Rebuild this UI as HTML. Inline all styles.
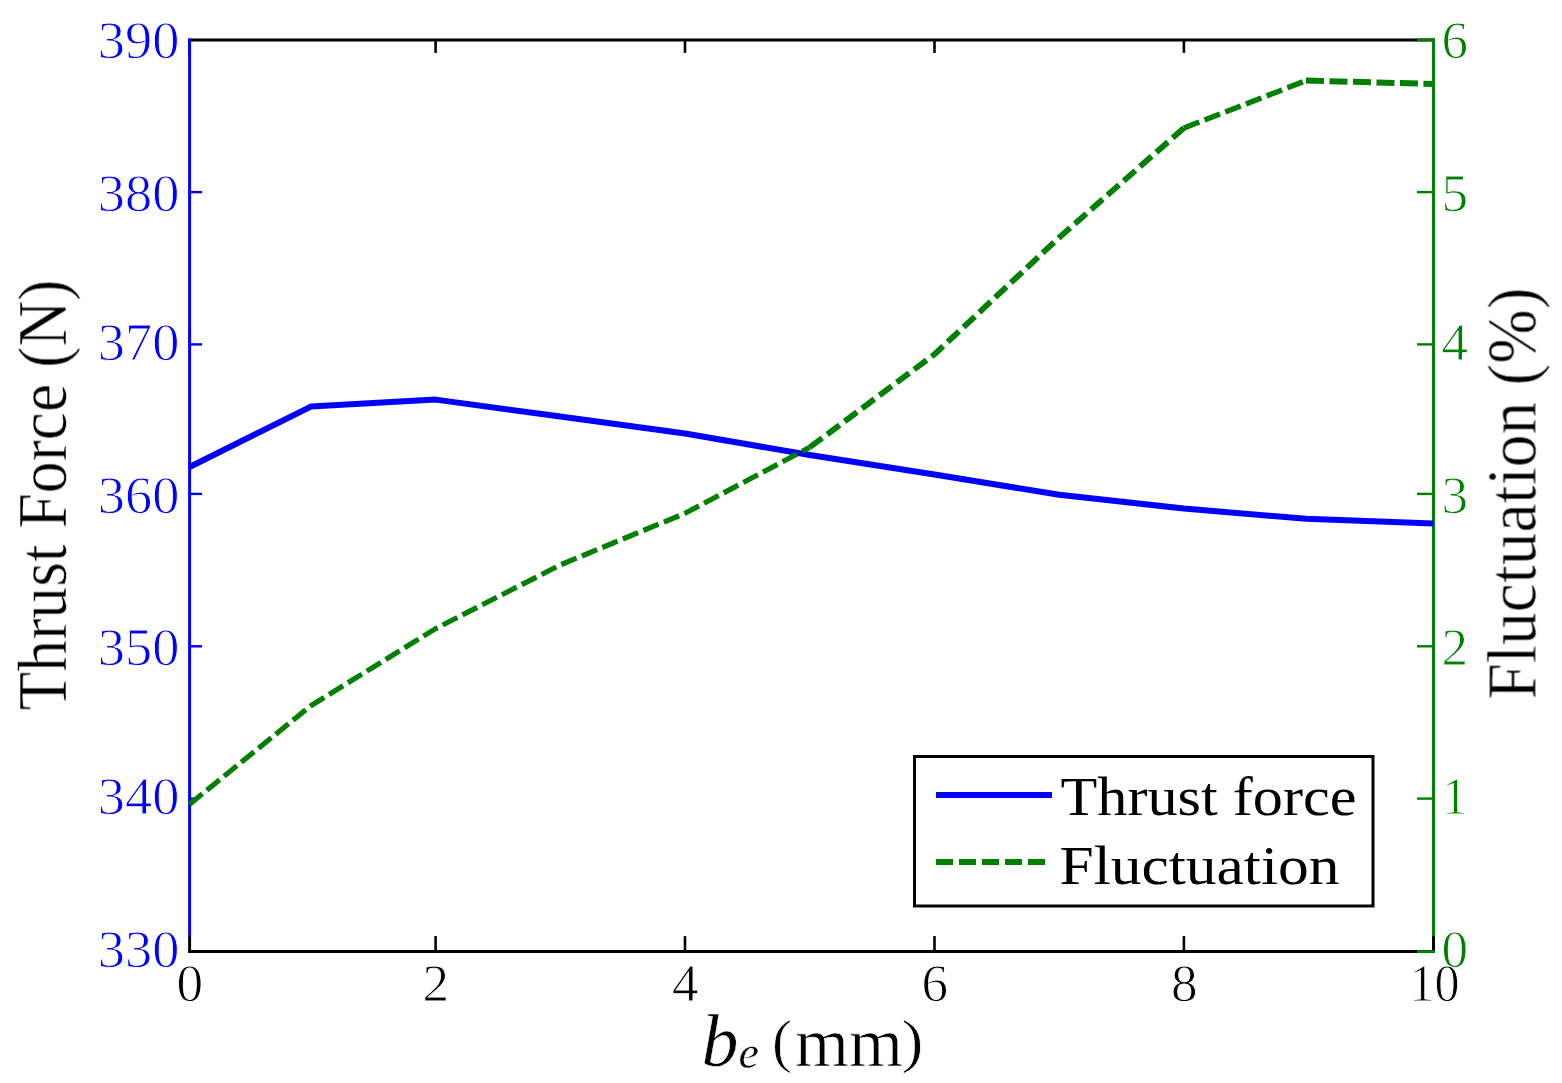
<!DOCTYPE html>
<html lang="en"><head><meta charset="utf-8"><title>Thrust force and fluctuation vs b_e</title>
<style>
html,body{margin:0;padding:0;background:#fff;}
body{width:1562px;height:1083px;overflow:hidden;}
svg{display:block;}
text{font-family:"Liberation Serif","Times New Roman",serif;filter:blur(0.7px);}
.tk{font-size:52px;stroke:#fff;stroke-width:0.9px;}
.lab{font-size:70px;stroke:#fff;stroke-width:0.7px;}
.leg{font-size:55px;}
</style></head><body>
<svg width="1562" height="1083" viewBox="0 0 1562 1083">
<rect x="0" y="0" width="1562" height="1083" fill="#ffffff"/>

<g stroke="#000" stroke-width="3" fill="none">
<line x1="188.1" y1="39.9" x2="1435.0" y2="39.9"/>
<line x1="188.1" y1="951.6" x2="1435.0" y2="951.6"/>
</g>
<g stroke="#000" stroke-width="2.6">
<line x1="189.6" y1="951.6" x2="189.6" y2="936.1" stroke-width="3"/>
<line x1="189.6" y1="39.9" x2="189.6" y2="52.9"/>
<line x1="435.6" y1="951.6" x2="435.6" y2="936.1"/>
<line x1="435.6" y1="39.9" x2="435.6" y2="52.9"/>
<line x1="685.0" y1="951.6" x2="685.0" y2="936.1"/>
<line x1="685.0" y1="39.9" x2="685.0" y2="52.9"/>
<line x1="934.5" y1="951.6" x2="934.5" y2="936.1"/>
<line x1="934.5" y1="39.9" x2="934.5" y2="52.9"/>
<line x1="1183.9" y1="951.6" x2="1183.9" y2="936.1"/>
<line x1="1183.9" y1="39.9" x2="1183.9" y2="52.9"/>
<line x1="1433.5" y1="951.6" x2="1433.5" y2="936.1" stroke-width="3"/>
<line x1="1433.5" y1="39.9" x2="1433.5" y2="52.9"/>
</g>
<g stroke="#0000ff" stroke-width="3">
<line x1="189.6" y1="38.4" x2="189.6" y2="936.1"/>
</g>
<g stroke="#0000ff" stroke-width="2.4">
<line x1="189.6" y1="798.6" x2="194.6" y2="798.6"/>
<line x1="189.6" y1="646.3" x2="202.1" y2="646.3"/>
<line x1="189.6" y1="493.9" x2="202.1" y2="493.9"/>
<line x1="189.6" y1="344.4" x2="202.1" y2="344.4"/>
<line x1="189.6" y1="192.1" x2="202.1" y2="192.1"/>
</g>
<g stroke="#007f00" stroke-width="3">
<line x1="1433.5" y1="38.4" x2="1433.5" y2="936.1"/>
</g>
<g stroke="#007f00" stroke-width="2.4">
<line x1="1435.0" y1="951.6" x2="1417.0" y2="951.6" stroke-width="3"/>
<line x1="1433.5" y1="798.6" x2="1417.0" y2="798.6"/>
<line x1="1433.5" y1="646.3" x2="1417.0" y2="646.3"/>
<line x1="1433.5" y1="493.9" x2="1417.0" y2="493.9"/>
<line x1="1433.5" y1="344.4" x2="1417.0" y2="344.4"/>
<line x1="1433.5" y1="192.1" x2="1417.0" y2="192.1"/>
<line x1="1435.0" y1="39.9" x2="1417.0" y2="39.9" stroke-width="3"/>
</g>
<polyline points="189.6,467.0 310.9,406.6 435.6,399.6 560.3,416.5 685.0,433.5 809.8,455.0 934.5,474.5 1059.2,494.8 1183.9,508.6 1306.0,518.8 1433.3,523.4" fill="none" stroke="#0000ff" stroke-width="6" stroke-linejoin="round"/>
<polyline points="189.6,804.2 310.9,705.7 435.6,628.6 560.3,564.9 685.0,513.3 809.8,447.3" fill="none" stroke="#007f00" stroke-width="5.2" stroke-dasharray="16.5 5.7" stroke-linejoin="round"/>
<polyline points="809.8,447.3 934.5,354.3 1059.2,237.5 1183.9,128.0" fill="none" stroke="#007f00" stroke-width="5.8" stroke-dasharray="15.5 6.2" stroke-linejoin="round"/>
<polyline points="1183.9,128.0 1306.0,80.6" fill="none" stroke="#007f00" stroke-width="5.4" stroke-dasharray="16.5 5.7" stroke-linejoin="round"/>
<polyline points="1306.0,80.6 1433.3,83.9" fill="none" stroke="#007f00" stroke-width="6" stroke-dasharray="18 5.5"/>
<g class="tk" fill="#0000ff" text-anchor="end">
<text x="179.3" y="966.8" textLength="81.5" lengthAdjust="spacingAndGlyphs">330</text>
<text x="179.3" y="814.1" textLength="81.5" lengthAdjust="spacingAndGlyphs">340</text>
<text x="179.3" y="664.7" textLength="81.5" lengthAdjust="spacingAndGlyphs">350</text>
<text x="179.3" y="512.7" textLength="81.5" lengthAdjust="spacingAndGlyphs">360</text>
<text x="179.3" y="360.0" textLength="81.5" lengthAdjust="spacingAndGlyphs">370</text>
<text x="179.3" y="210.7" textLength="81.5" lengthAdjust="spacingAndGlyphs">380</text>
<text x="179.3" y="57.8" textLength="81.5" lengthAdjust="spacingAndGlyphs">390</text>
</g>
<g class="tk" fill="#007f00" text-anchor="start">
<text x="1441.6" y="966.7" textLength="26.6" lengthAdjust="spacingAndGlyphs">0</text>
<text x="1441.6" y="814.0" textLength="26.6" lengthAdjust="spacingAndGlyphs">1</text>
<text x="1441.6" y="664.6" textLength="26.6" lengthAdjust="spacingAndGlyphs">2</text>
<text x="1441.6" y="512.6" textLength="26.6" lengthAdjust="spacingAndGlyphs">3</text>
<text x="1441.6" y="359.9" textLength="26.6" lengthAdjust="spacingAndGlyphs">4</text>
<text x="1441.6" y="210.6" textLength="26.6" lengthAdjust="spacingAndGlyphs">5</text>
<text x="1441.6" y="57.7" textLength="26.6" lengthAdjust="spacingAndGlyphs">6</text>
</g>
<g class="tk" fill="#000" text-anchor="middle">
<text x="189.9" y="1000.7" textLength="26.6" lengthAdjust="spacingAndGlyphs">0</text>
<text x="435.9" y="1000.7" textLength="26.6" lengthAdjust="spacingAndGlyphs">2</text>
<text x="685.3" y="1000.7" textLength="26.6" lengthAdjust="spacingAndGlyphs">4</text>
<text x="934.8" y="1000.7" textLength="26.6" lengthAdjust="spacingAndGlyphs">6</text>
<text x="1184.2" y="1000.7" textLength="26.6" lengthAdjust="spacingAndGlyphs">8</text>
<text x="1434.5" y="1000.7" textLength="50" lengthAdjust="spacingAndGlyphs">10</text>
</g>
<text class="lab" fill="#000" transform="translate(66,710.5) rotate(-90)" textLength="431" lengthAdjust="spacingAndGlyphs">Thrust Force (N)</text>
<text class="lab" fill="#000" transform="translate(1535.5,699.5) rotate(-90)" textLength="412" lengthAdjust="spacingAndGlyphs">Fluctuation (%)</text>
<text class="lab" fill="#000"><tspan x="701.5" y="1065.5" font-style="italic" font-size="74" stroke-width="0.5">b</tspan><tspan x="738.5" y="1068" font-style="italic" font-size="46" stroke-width="0.3">e </tspan><tspan x="772" y="1060.5" font-size="60">(</tspan><tspan x="795" y="1065.5" textLength="108" lengthAdjust="spacingAndGlyphs">mm</tspan><tspan x="901.5" y="1060.5" font-size="60" textLength="22" lengthAdjust="spacingAndGlyphs">)</tspan></text>
<rect x="914.5" y="756.5" width="458.5" height="149.5" fill="#fff" stroke="#000" stroke-width="3"/>
<line x1="936" y1="795" x2="1052" y2="795" stroke="#0000ff" stroke-width="5.8"/>
<line x1="936" y1="862" x2="1047" y2="862" stroke="#007f00" stroke-width="6" stroke-dasharray="17 6"/>
<text class="leg" fill="#000" x="1060.5" y="814.5" textLength="296" lengthAdjust="spacingAndGlyphs">Thrust force</text>
<text class="leg" fill="#000" x="1059.5" y="884.3" textLength="280" lengthAdjust="spacingAndGlyphs">Fluctuation</text>
</svg>
</body></html>
